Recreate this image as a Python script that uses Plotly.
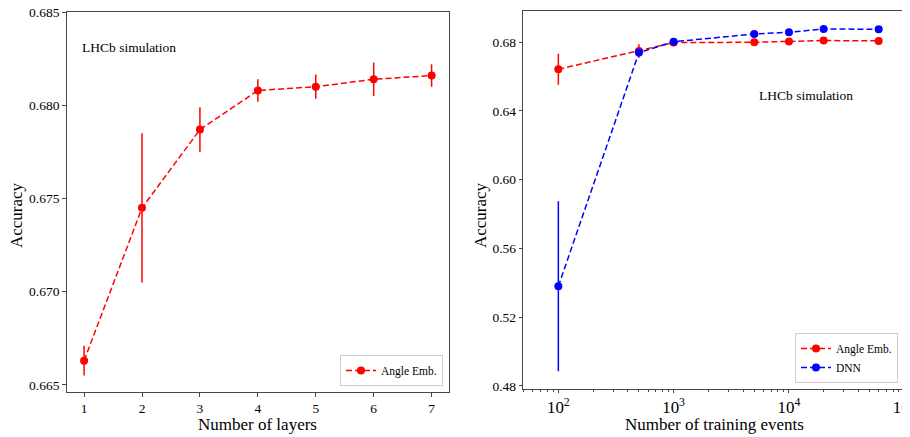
import plotly.graph_objects as go

# ------------------------------------------------------------------
# data
# ------------------------------------------------------------------
LAYERS = [1, 2, 3, 4, 5, 6, 7]
ACC_LAYERS = [0.6663, 0.6745, 0.6787, 0.6808, 0.6810, 0.6814, 0.6816]
ERR_LAYERS = [0.0008, 0.0040, 0.0012, 0.0006, 0.00065, 0.0009, 0.0006]

EVENTS = [100, 500, 1000, 5000, 10000, 20000, 60000]
ACC_ANGLE = [0.6643, 0.6749, 0.6798, 0.6800, 0.6805, 0.6810, 0.6808]
ERR_ANGLE = [0.0090, 0.0040, 0.0010, 0.0010, 0.0008, 0.0008, 0.0008]
ACC_DNN = [0.5379, 0.6740, 0.6803, 0.6848, 0.6858, 0.6877, 0.6876]
ERR_DNN = [0.0495, 0.0015, 0.0010, 0.0010, 0.0010, 0.0008, 0.0008]

RED = "#ff0000"
BLUE = "#0000ff"
AXC = "#444444"
FONT = "Liberation Serif"

# the page body has an 8px margin, so the figure is 8px smaller than the window
W, H, OFF = 902, 429, 8


def px(x):
    return (x - OFF) / W


def py(y):
    return 1 - (y - OFF) / H


def serie(x, y, err, nome, cor, xa, ya, legenda):
    return go.Scatter(
        x=x, y=y, name=nome, mode="lines+markers", showlegend=True,
        line=dict(color=cor, width=1.5, dash="6px,3px"),
        marker=dict(color=cor, size=8),
        error_y=dict(type="data", array=err, visible=True, color=cor,
                     thickness=1.5, width=0),
        xaxis=xa, yaxis=ya, legend=legenda,
    )


fig = go.Figure()
fig.add_trace(serie(LAYERS, ACC_LAYERS, ERR_LAYERS, "Angle Emb.", RED, "x", "y", "legend"))
fig.add_trace(serie(EVENTS, ACC_ANGLE, ERR_ANGLE, "Angle Emb.", RED, "x2", "y2", "legend2"))
fig.add_trace(serie(EVENTS, ACC_DNN, ERR_DNN, "DNN", BLUE, "x2", "y2", "legend2"))

eixo = dict(showline=True, linecolor=AXC, linewidth=1.2, mirror=True,
            ticks="outside", ticklen=3.5, tickcolor=AXC, showgrid=False,
            zeroline=False, automargin=False, ticklabeloverflow="allow",
            tickfont=dict(size=13.5, color="black"))

titulos = [
    ("Number of layers", 257.5, 424, 0),
    ("Number of training events", 714, 424, 0),
    ("Accuracy", 16, 215, -90),
    ("Accuracy", 480, 215, -90),
]
notas = [dict(text=t, x=px(x), y=py(y), xref="paper", yref="paper",
              xanchor="center", yanchor="middle", showarrow=False, textangle=a,
              font=dict(size=17)) for t, x, y, a in titulos]
notas += [
    dict(text="LHCb simulation", x=px(80), y=py(47), xref="paper", yref="paper",
         xanchor="left", yanchor="middle", showarrow=False, font=dict(size=13.5)),
    dict(text="LHCb simulation", x=px(757), y=py(95), xref="paper", yref="paper",
         xanchor="left", yanchor="middle", showarrow=False, font=dict(size=13.5)),
]

fig.update_layout(
    width=W, height=H,
    margin=dict(l=0, r=0, t=0, b=0),
    plot_bgcolor="white", paper_bgcolor="white",
    font=dict(family=FONT, color="black"),
    xaxis=dict(**eixo, domain=[px(66.7), px(449)], range=[0.7, 7.3],
               tickvals=LAYERS, anchor="y"),
    yaxis=dict(**eixo, domain=[py(392), py(12)], range=[0.66462, 0.68501],
               tickvals=[0.665, 0.670, 0.675, 0.680, 0.685], tickformat=".3f",
               anchor="x"),
    xaxis2=dict(**eixo, domain=[px(523.3), px(904.3)], type="log", range=[1.696, 5.0005],
                dtick=1, exponentformat="power",
                minor=dict(ticks="outside", ticklen=2, tickcolor=AXC, dtick="D1"),
                anchor="y2"),
    yaxis2=dict(**eixo, domain=[py(388.7), py(11)], range=[0.4783, 0.6982],
                tickvals=[0.48, 0.52, 0.56, 0.60, 0.64, 0.68], tickformat=".2f",
                anchor="x2"),
    legend=dict(x=px(443), y=py(386), xanchor="right", yanchor="bottom",
                bgcolor="white", bordercolor="#cccccc", borderwidth=1,
                font=dict(size=11.5), itemwidth=30, tracegroupgap=0),
    legend2=dict(x=px(898), y=py(383), xanchor="right", yanchor="bottom",
                 bgcolor="white", bordercolor="#cccccc", borderwidth=1,
                 font=dict(size=11.5), itemwidth=30, tracegroupgap=0),
    annotations=notas,
)

fig.write_html("out.html")
